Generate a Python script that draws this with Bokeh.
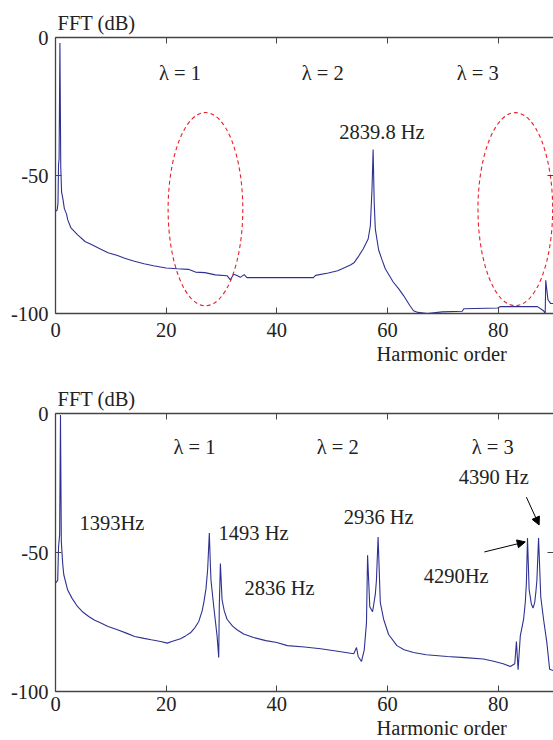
from bokeh.plotting import figure
from bokeh.models import Range1d, FixedTicker, LinearAxis, Label, Arrow, NormalHead, Title
from bokeh.layouts import column
from bokeh.embed import file_html
from bokeh.resources import INLINE

FONT = "Liberation Serif"
FS = "20.5px"
LINE = "#2E3192"
AXC = "#444444"
TXT = "#222222"

# ---------------- data ----------------
x_ticks = [0, 20, 40, 60, 80]
y_ticks = [-100, -50, 0]
y_tick_labels = {-100: "-100", -50: "-50", 0: "0"}

top_x = [0, 0.3, 0.45, 0.55, 0.65, 0.8, 0.95, 1.1, 1.3, 1.6, 2.0, 2.2, 2.6, 2.8, 4.0, 5.4, 6.5, 8.1,
         9.5, 11.2, 12.5, 14.1, 16, 17.7, 20, 22, 24, 25.3, 27, 28.9, 31, 31.6, 32.2, 32.8, 33.4,
         34.1, 34.6, 40, 46.6, 47, 49.3, 51, 51.8, 53.3, 54, 54.7, 55.6, 56.5, 56.9, 57.2, 57.4,
         57.6, 57.8, 58.4, 59, 59.6, 61, 62, 62.9, 64, 64.7, 65.5, 67.2, 69.9, 73.5, 73.8, 79.9,
         80.4, 87.1, 88.2, 88.5, 88.6, 89, 89.5, 90]
top_db = [-63, -62.5, -60, -46, -44, -2, -47, -56, -58, -62, -64, -66, -68, -69, -71.5, -74, -75, -76.6,
          -78, -79, -80, -81, -82, -82.7, -83.5, -83.8, -84, -85, -85.2, -86, -86.3, -87.8, -85.8, -86.2, -86.9,
          -85.9, -87, -87, -87, -86.2, -85.3, -84.5, -83.8, -82.4, -81.5, -79.5, -76.6, -73, -68.3, -55, -40.6,
          -60, -69.4, -77, -80.5, -83.8, -88.5, -91, -93.5, -97, -99, -99.6, -100, -99.4, -99.2, -98.3, -98,
          -97.5, -97.5, -99, -100, -88, -95, -96.4, -96.4]

bot_x = [0, 0.4, 0.55, 0.75, 0.9, 1.05, 1.3, 1.5, 2.2, 3, 4, 5, 6, 7, 8.1, 9.5, 11.2, 12.8, 14.3, 16,
         17.3, 19, 20.2, 21, 22.6, 23.5, 24.4, 25.2, 25.9, 26.5, 26.8, 27.2, 27.5, 27.8, 28.0, 28.1, 28.6,
         29.2, 29.5, 29.6, 29.8, 30.1, 30.5, 31, 32, 32.8, 34, 35.8, 38, 40, 41.9, 45, 47.9, 51, 53.9,
         54.4, 54.7, 55.3, 55.8, 56.2, 56.4, 56.8, 57.3, 57.8, 58.0, 58.3, 58.7, 59.3, 60.2, 61.7, 63,
         64.7, 67, 70.8, 74, 77.3, 79, 80.9, 82.2, 83.0, 83.3, 83.6, 84, 84.6, 84.9, 85.1, 85.3, 85.6,
         86.0, 86.3, 86.6, 86.8, 87.0, 87.3, 87.7, 88.2, 88.8, 89.3, 90]
bot_db = [-61, -60, -48, -43.5, -0.5, -46, -54, -58, -63.5, -66.5, -69.5, -71.5, -73, -74.3, -75.3, -76.6,
          -77.8, -79, -80.2, -80.9, -81.4, -82, -82.6, -82, -81, -80, -78.9, -77, -74.8, -71, -68, -63, -56,
          -43, -55, -60, -69.5, -80, -87.8, -69.5, -54, -67, -71, -74, -76.5, -77.8, -79.3, -80.6, -81.7,
          -82.4, -83.5, -84, -84.6, -85.5, -86.4, -84.2, -87.4, -89.2, -85, -75.3, -51, -69.5, -71.3, -65,
          -60, -44.4, -68, -74, -79.5, -83.5, -85, -86, -86.8, -87.4, -87.8, -88.3, -89, -90, -91, -90, -82,
          -92.2, -80, -74, -68, -61, -44.8, -63.5, -68.5, -70, -68, -64.5, -60, -44.8, -66, -74, -82.4, -92,
          -92.5]

lambda_labels = ["\u03bb = 1", "\u03bb = 2", "\u03bb = 3"]
top_lambda_x = [22.5, 48.3, 76.3]
bot_lambda_x = [25.1, 51.0, 79.0]

top_notes = ["2839.8 Hz"]
top_notes_x = [59.0]
top_notes_y = [-34.2]

bot_notes = ["1393Hz", "1493 Hz", "2836 Hz", "2936 Hz", "4390 Hz", "4290Hz"]
bot_notes_x = [10.2, 35.8, 40.5, 58.4, 79.2, 72.4]
bot_notes_y = [-39.4, -43.0, -62.7, -37.3, -22.9, -58.4]


def make_fig(height, b_top, b_bottom, tick_standoff, xs, ys):
    p = figure(width=553, height=height, output_backend="svg", toolbar_location=None,
               x_range=Range1d(0, 90), y_range=Range1d(-100, 0),
               min_border_left=55, min_border_right=0,
               min_border_top=b_top, min_border_bottom=b_bottom,
               title="FFT (dB)", title_location="above")
    p.outline_line_color = None
    p.grid.visible = False
    p.background_fill_color = "white"
    p.border_fill_color = "white"

    p.title.align = "left"
    p.title.text_font = FONT
    p.title.text_font_size = FS
    p.title.text_font_style = "normal"
    p.title.text_color = TXT
    p.title.standoff = 8
    p.title.offset = 2

    for ax in (p.xaxis[0], p.yaxis[0]):
        ax.axis_line_color = AXC
        ax.axis_line_width = 1.3
        ax.major_tick_line_color = AXC
        ax.major_tick_in = 6
        ax.major_tick_out = 0
        ax.minor_tick_line_color = None
        ax.major_label_text_font = FONT
        ax.major_label_text_font_size = FS
        ax.major_label_text_color = TXT
    p.xaxis[0].ticker = FixedTicker(ticks=x_ticks)
    p.xaxis[0].major_label_standoff = tick_standoff
    p.yaxis[0].ticker = FixedTicker(ticks=y_ticks)
    p.yaxis[0].major_label_overrides = y_tick_labels
    p.yaxis[0].major_label_standoff = 7

    top_ax = LinearAxis(ticker=FixedTicker(ticks=x_ticks), axis_line_color=AXC, axis_line_width=1.3,
                        major_tick_line_color=AXC, major_tick_in=6, major_tick_out=0,
                        minor_tick_line_color=None,
                        major_label_overrides={t: "" for t in x_ticks},
                        major_label_standoff=0)
    p.add_layout(top_ax, "above")
    right_ax = LinearAxis(ticker=FixedTicker(ticks=y_ticks), axis_line_color=None,
                          major_tick_line_color=AXC, major_tick_in=6, major_tick_out=0,
                          minor_tick_line_color=None,
                          major_label_overrides={t: "" for t in y_ticks},
                          major_label_standoff=0)
    p.add_layout(right_ax, "right")

    xl = Title(text="Harmonic order", align="left", offset=321, text_font=FONT,
               text_font_size=FS, text_font_style="normal", text_color=TXT, standoff=3)
    p.add_layout(xl, "below")

    p.line(xs, ys, line_color=LINE, line_width=1.1)
    return p


def add_texts(p, labels, xs, ys):
    for t, x, y in zip(labels, xs, ys):
        p.add_layout(Label(x=x, y=y, text=t, text_font=FONT, text_font_size=FS,
                           text_color=TXT, text_align="center", text_baseline="middle"))


p1 = make_fig(366, 37, 51, 9, top_x, top_db)
add_texts(p1, lambda_labels, top_lambda_x, [-12.9] * 3)
add_texts(p1, top_notes, top_notes_x, top_notes_y)
for cx in (27.1, 83.1):
    p1.ellipse(x=[cx], y=[-62.2], width=13.5, height=70, fill_color=None,
               line_color="#E8202A", line_dash="4 3", line_width=1.1)

p2 = make_fig(374, 47, 48, 5, bot_x, bot_db)
add_texts(p2, lambda_labels, bot_lambda_x, [-12.2] * 3)
add_texts(p2, bot_notes, bot_notes_x, bot_notes_y)
p2.add_layout(Arrow(end=NormalHead(size=8, fill_color="black", line_color="black"),
                    x_start=85.1, y_start=-30.1, x_end=87.4, y_end=-40.1,
                    line_color="black", line_width=1))
p2.add_layout(Arrow(end=NormalHead(size=8, fill_color="black", line_color="black"),
                    x_start=77.5, y_start=-49.8, x_end=84.9, y_end=-46.2,
                    line_color="black", line_width=1))

layout = column(p1, p2, spacing=0)
open("out.html", "w").write(file_html(layout, INLINE))
